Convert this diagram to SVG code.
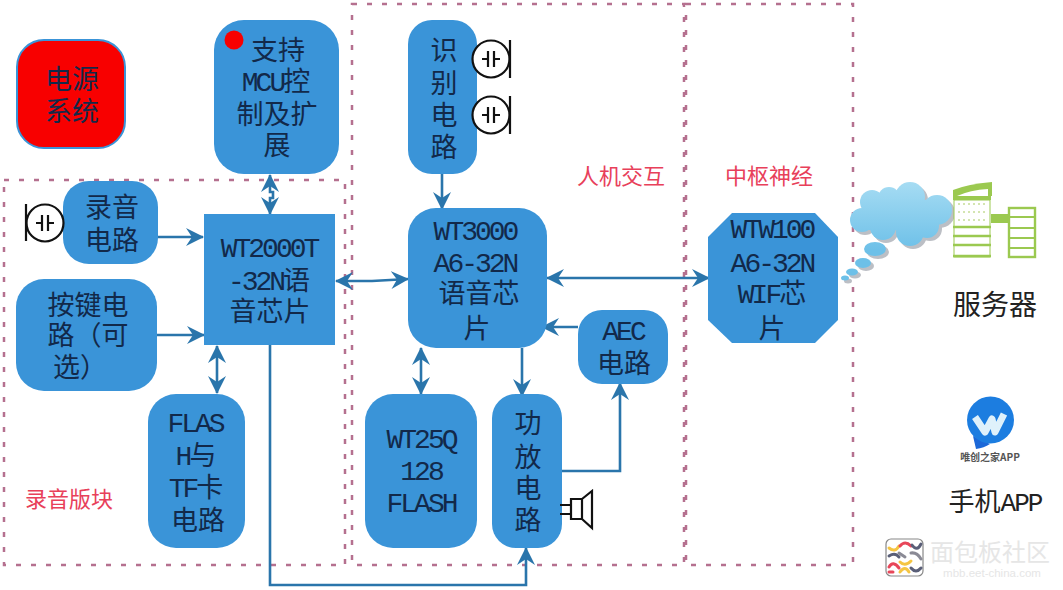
<svg xmlns="http://www.w3.org/2000/svg" width="1063" height="590" viewBox="0 0 1063 590">
<style>
.box{fill:#3a94d8}
.t{font-family:"Liberation Mono","Noto Sans CJK SC",sans-serif;font-size:27px;fill:#12294a;text-anchor:middle}
.l{font-size:28px;letter-spacing:-3px}
.r{font-family:"Noto Sans CJK SC",sans-serif;font-size:22px;fill:#e8405a;text-anchor:middle}
.k{font-family:"Liberation Mono","Noto Sans CJK SC",sans-serif;font-size:28px;fill:#222;text-anchor:middle}
.zone{fill:none;stroke:#b5708f;stroke-width:2.5;stroke-dasharray:5 10}
.c{fill:none;stroke:#2a75ab;stroke-width:2.6}
.a{marker-end:url(#h)}
.b{marker-start:url(#h);marker-end:url(#h)}
.sym{fill:none;stroke:#111;stroke-width:2.2}
.g{fill:#9bc950}
.wm{fill:none;stroke-width:3;stroke-linecap:round}
</style>
<defs>
<marker id="h" viewBox="0 0 18 18" refX="17" refY="9" markerWidth="18" markerHeight="18" markerUnits="userSpaceOnUse" orient="auto-start-reverse">
<path d="M0 0 L18 9 L0 18 L6 9Z" fill="#2a75ab"/>
</marker>
<g id="mic"><circle cx="0" cy="0" r="18.5" fill="#fff" stroke="#111" stroke-width="2.2"/><path class="sym" d="M-9 0H-3M-3-8V8M3-8V8M3 0H9"/></g>
<linearGradient id="cl" gradientUnits="userSpaceOnUse" x1="0" y1="182" x2="0" y2="250"><stop offset="0" stop-color="#a6dcf3"/><stop offset="1" stop-color="#6dc0e8"/></linearGradient>
<g id="cloudshape">
<circle cx="862" cy="220" r="12"/><circle cx="872" cy="202" r="12"/><circle cx="889" cy="198" r="11"/><circle cx="910" cy="197" r="15"/><circle cx="937" cy="210" r="15"/><circle cx="910" cy="232" r="14"/><circle cx="883" cy="227" r="13"/><circle cx="927" cy="226" r="12"/><rect x="868" y="200" width="65" height="30"/>
<ellipse cx="875" cy="249" rx="11" ry="7"/><ellipse cx="863" cy="263" rx="8" ry="5"/><ellipse cx="852" cy="272" rx="6" ry="3.5"/><ellipse cx="845" cy="278" rx="4" ry="2.5"/>
</g>
</defs>
<rect width="1063" height="590" fill="#fff"/>
<g id="zones">
<rect class="zone" x="4" y="180" width="341" height="385"/>
<rect class="zone" x="352" y="4" width="332" height="561"/>
<rect class="zone" x="686" y="4" width="167" height="561"/>
</g>
<text class="r" x="69" y="507">录音版块</text>
<text class="r" x="621" y="184">人机交互</text>
<text class="r" x="769" y="184">中枢神经</text>

<g id="connectors">
<path class="c a" d="M158 237H203"/>
<path class="c a" d="M157 335H204"/>
<path class="c b" d="M270 175V192H273V198H270V214"/>
<path class="c b" d="M217 346V393"/>
<path class="c b" d="M336 281L372 281L408 279"/>
<path class="c a" d="M442 174V209"/>
<path class="c b" d="M547 278H709"/>
<path class="c b" d="M421 348V394"/>
<path class="c a" d="M522 348V396"/>
<path class="c a" d="M578 327H542"/>
<path class="c a" d="M562 471H620V383"/>
<path class="c a" d="M270 345V585H526V548"/>
</g>

<g id="power"><rect x="17" y="40" width="108" height="108" rx="27" fill="#f80000" stroke="#3a94d8" stroke-width="2"/><text class="t" x="72" y="89">电源</text><text class="t" x="72" y="121">系统</text></g>
<g id="mcu"><rect class="box" x="214" y="20" width="125" height="154" rx="30"/><circle cx="234" cy="40" r="9.5" fill="#f80000"/><text class="t" x="278" y="60">支持</text><text class="t" x="276" y="91"><tspan class="l">MCU</tspan>控</text><text class="t" x="277" y="124">制及扩</text><text class="t" x="277" y="155">展</text></g>
<g id="rec"><rect class="box" x="63" y="181" width="95" height="83" rx="26"/><text class="t" x="112" y="217">录音</text><text class="t" x="112" y="250">电路</text></g>
<g id="key"><rect class="box" x="16" y="279" width="141" height="112" rx="28"/><text class="t" x="88" y="315">按键电</text><text class="t" x="88" y="345">路（可</text><text class="t" x="80" y="377">选）</text></g>
<g id="wt2000"><rect class="box" x="204" y="214" width="131" height="131"/><text class="t" x="269" y="257"><tspan class="l">WT2000T</tspan></text><text class="t" x="269" y="290"><tspan class="l">-32N</tspan>语</text><text class="t" x="270" y="321">音芯片</text></g>
<g id="flash"><rect class="box" x="148" y="394" width="97" height="154" rx="28"/><text class="t" x="195" y="432"><tspan class="l">FLAS</tspan></text><text class="t" x="196" y="465"><tspan class="l">H</tspan>与</text><text class="t" x="196" y="497"><tspan class="l">TF</tspan>卡</text><text class="t" x="198" y="530">电路</text></g>
<g id="ident"><rect class="box" x="408" y="20" width="69" height="154" rx="24"/><text class="t" x="444" y="60">识</text><text class="t" x="444" y="93">别</text><text class="t" x="444" y="125">电</text><text class="t" x="444" y="157">路</text></g>
<g id="wt3000"><rect class="box" x="408" y="208" width="139" height="140" rx="28"/><text class="t" x="475" y="240"><tspan class="l">WT3000</tspan></text><text class="t" x="475" y="272"><tspan class="l">A6-32N</tspan></text><text class="t" x="479" y="303">语音芯</text><text class="t" x="477" y="338">片</text></g>
<g id="aec"><rect class="box" x="578" y="310" width="90" height="74" rx="24"/><text class="t" x="623" y="340"><tspan class="l">AEC</tspan></text><text class="t" x="624" y="373">电路</text></g>
<g id="wt25q"><rect class="box" x="365" y="394" width="112" height="154" rx="28"/><text class="t" x="421" y="448"><tspan class="l">WT25Q</tspan></text><text class="t" x="421" y="480"><tspan class="l">128</tspan></text><text class="t" x="421" y="512"><tspan class="l">FLASH</tspan></text></g>
<g id="amp"><rect class="box" x="492" y="394" width="70" height="154" rx="24"/><text class="t" x="528" y="433">功</text><text class="t" x="528" y="467">放</text><text class="t" x="528" y="498">电</text><text class="t" x="528" y="530">路</text></g>
<g id="wtw"><path class="box" d="M732 213H815L838 237V320L815 343H732L708 320V237Z"/><text class="t" x="772" y="238"><tspan class="l">WTW100</tspan></text><text class="t" x="772" y="272"><tspan class="l">A6-32N</tspan></text><text class="t" x="772" y="303"><tspan class="l">WIF</tspan>芯</text><text class="t" x="772" y="338">片</text></g>

<g id="mics">
<use href="#mic" x="45" y="223"/><path class="sym" d="M26 204V241"/>
<use href="#mic" x="491" y="59"/><path class="sym" d="M510 40V78"/>
<use href="#mic" x="491" y="115"/><path class="sym" d="M510 96V134"/>
</g>
<g id="speaker"><path class="sym" d="M560 505H570M560 514H570M571 499H582V519H571ZM582 499L592 491V528L582 519"/></g>

<g id="cloud"><use href="#cloudshape" x="3" y="3" fill="#bcbfc5"/><use href="#cloudshape" fill="url(#cl)"/></g>
<g id="server">
<path class="g" d="M953 190Q968 184 992 182V196H953Z"/>
<path d="M957 196Q970 190 988 189V196Z" fill="#fff"/>
<rect class="g" x="953" y="196" width="38" height="4"/>
<rect x="954" y="200" width="36" height="57" fill="#fff" stroke="#9bc950" stroke-width="1"/>
<path d="M958 204H988M958 212H988M958 220H988" stroke="#c6dd98" stroke-width="1.5" stroke-dasharray="2 3"/>
<path d="M953 227H991M953 236H991M953 245H991M953 256H991" stroke="#9bc950" stroke-width="2.6"/>
<rect class="g" x="991" y="214" width="17" height="9"/>
<rect x="1009" y="208" width="26" height="49" fill="#fff" stroke="#9bc950" stroke-width="2.4"/>
<path d="M1009 217H1035M1009 228H1035M1009 238H1035M1009 248H1035" stroke="#9bc950" stroke-width="2.2"/>
</g>
<text class="k" x="995" y="315">服务器</text>

<g id="app">
<path d="M973 436L976 449Q984 448 990 444Z" fill="#1c68d8"/>
<circle cx="990.500" cy="420" r="23.500" fill="#1c7de0"/>
<path d="M975 417L985 432L992 419L995 432L1004 414" fill="none" stroke="#dff1fb" stroke-width="7" stroke-linejoin="round"/>
<text x="990" y="461" font-family="Noto Sans CJK SC,sans-serif" font-size="10" font-weight="700" fill="#555" text-anchor="middle">唯创之家APP</text>
</g>
<text class="k" x="995" y="511" style="font-size:26px">手机<tspan font-size="26" letter-spacing="-2">APP</tspan></text>

<g id="watermark">
<rect x="886" y="539" width="37" height="37" rx="5" fill="#fff" stroke="#888" stroke-width="1.200"/>
<path class="wm" stroke="#f5c542" d="M889 548Q895 553 899 546M900 562Q905 567 911 561M900 572Q905 565 909 572"/>
<path class="wm" stroke="#e8475a" d="M900 546Q905 540 911 546M889 567Q893 560 899 568M889 572H893"/>
<path class="wm" stroke="#5a5f78" d="M912 545Q917 552 921 544M889 556Q895 552 899 557M911 568Q916 574 921 568"/>
<path class="wm" stroke="#8a8a95" d="M911 553Q917 552 921 559M899 553L905 557"/>
<text x="990" y="561" font-family="Noto Sans CJK SC,sans-serif" font-size="24" fill="#e6e6e6" text-anchor="middle">面包板社区</text>
<text x="992" y="577" font-family="Liberation Sans,sans-serif" font-size="11.500" fill="#e6e6e6" text-anchor="middle">mbb.eet-china.com</text>
</g>
</svg>
